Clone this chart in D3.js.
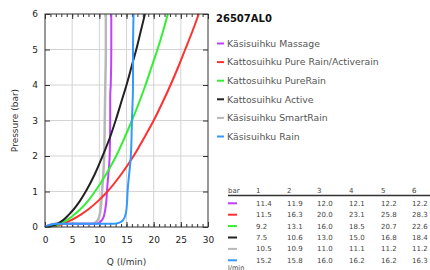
<!DOCTYPE html>
<html>
<head>
<meta charset="utf-8">
<script src="https://cdn.jsdelivr.net/npm/d3@7"></script>
<style>
  body { margin: 0; background: #fff; }
  svg { font-family: "DejaVu Sans", sans-serif; }
</style>
</head>
<body>
<div id="chart"></div>
<script>
// values
var title = "26507AL0";
var seriesNames = ["Käsisuihku Massage", "Kattosuihku Pure Rain/Activerain", "Kattosuihku PureRain",
                   "Kattosuihku Active", "Käsisuihku SmartRain", "Käsisuihku Rain"];
var seriesColors = ["#c040ff", "#ff3030", "#33ee33", "#222222", "#b8b8b8", "#3399ff"];

// pressure (bar) / flow (l/min) points per series
var pMassage = [0, 0.09, 0.095, 0.15, 0.25, 0.5, 0.75, 1, 2, 3, 3.7, 4, 5, 6];
var qMassage = [0, 2.1, 9.6, 10.2, 10.7, 11.1, 11.3, 11.4, 11.9, 12.0, 12.0, 12.1, 12.2, 12.2];
var pPureActive = [0, 0.05, 0.1, 0.2, 0.35, 0.5, 0.75, 1, 1.5, 2, 2.5, 3, 3.5, 4, 4.5, 5, 5.5, 6];
var qPureActive = [0, 2.4, 3.4, 4.9, 6.6, 8.0, 9.9, 11.5, 14.1, 16.3, 18.2, 20.0, 21.6, 23.1, 24.5, 25.8, 27.1, 28.3];
var pPureRain = [0, 0.05, 0.1, 0.2, 0.35, 0.5, 0.75, 1, 1.5, 2, 2.5, 3, 3.5, 4, 4.5, 5, 5.5, 6];
var qPureRain = [0, 2.1, 2.9, 4.1, 5.4, 6.5, 8.0, 9.2, 11.3, 13.1, 14.6, 16.0, 17.3, 18.5, 19.6, 20.7, 21.7, 22.6];
var pActive = [0, 0.05, 0.1, 0.2, 0.35, 0.5, 0.75, 1, 1.5, 2, 2.5, 3, 3.5, 4, 4.5, 5, 5.5, 6];
var qActive = [0, 1.7, 2.4, 3.4, 4.4, 5.3, 6.5, 7.5, 9.2, 10.6, 11.9, 13.0, 14.0, 15.0, 15.9, 16.8, 17.6, 18.4];
var pSmartRain = [0, 0.09, 0.095, 0.15, 0.3, 0.6, 1, 2, 3, 4, 5, 6];
var qSmartRain = [0, 2.1, 8.8, 9.5, 10.0, 10.3, 10.5, 10.9, 11.0, 11.1, 11.2, 11.2];
var pRain = [0, 0.09, 0.095, 0.13, 0.2, 0.4, 0.7, 1, 2, 3, 4, 5, 6];
var qRain = [0, 2.1, 12.9, 13.8, 14.4, 14.9, 15.1, 15.2, 15.8, 16.0, 16.2, 16.2, 16.3];

// table under the legend
var tableBars = ["1", "2", "3", "4", "5", "6"];
var tableRows = [
  ["11.4", "11.9", "12.0", "12.1", "12.2", "12.2"],
  ["11.5", "16.3", "20.0", "23.1", "25.8", "28.3"],
  ["9.2", "13.1", "16.0", "18.5", "20.7", "22.6"],
  ["7.5", "10.6", "13.0", "15.0", "16.8", "18.4"],
  ["10.5", "10.9", "11.0", "11.1", "11.2", "11.2"],
  ["15.2", "15.8", "16.0", "16.2", "16.2", "16.3"]
];

var xTicks = [0, 5, 10, 15, 20, 25, 30];
var yTicks = [0, 1, 2, 3, 4, 5, 6];

var width = 430, height = 270;
var plot = { left: 45, right: 208, top: 14, bottom: 227 };

var svg = d3.select("#chart").append("svg")
  .attr("width", width)
  .attr("height", height);

var x = d3.scaleLinear().domain([0, 30]).range([plot.left, plot.right]);
var y = d3.scaleLinear().domain([0, 6]).range([plot.bottom, plot.top]);

// grid
var grid = svg.append("g").attr("class", "grid");
grid.selectAll("line.gx").data(xTicks.slice(1, -1)).enter().append("line")
  .attr("x1", function(d) { return x(d); }).attr("x2", function(d) { return x(d); })
  .attr("y1", plot.top).attr("y2", plot.bottom)
  .attr("stroke", "#d4d4d4").attr("stroke-width", 1);
grid.selectAll("line.gy").data(yTicks.slice(1, -1)).enter().append("line")
  .attr("y1", function(d) { return y(d); }).attr("y2", function(d) { return y(d); })
  .attr("x1", plot.left).attr("x2", plot.right)
  .attr("stroke", "#d4d4d4").attr("stroke-width", 1);

// axes, ticks pointing inward
function styleAxis(g) {
  g.select(".domain").remove();
  g.selectAll("line").attr("stroke", "#333");
  g.selectAll("text").attr("fill", "#222").style("font-size", "9px").style("font-family", "DejaVu Sans");
}

svg.append("g").attr("transform", "translate(0," + plot.bottom + ")")
  .call(d3.axisBottom(x).tickValues(d3.range(0, 31)).tickSize(-3).tickFormat(""))
  .call(styleAxis);
svg.append("g").attr("transform", "translate(0," + plot.bottom + ")")
  .call(d3.axisBottom(x).tickValues(xTicks).tickSize(-5).tickPadding(10).tickFormat(d3.format("d")))
  .call(styleAxis);
svg.append("g").attr("transform", "translate(0," + plot.top + ")")
  .call(d3.axisTop(x).tickValues(d3.range(0, 31)).tickSize(-3).tickFormat(""))
  .call(styleAxis);
svg.append("g").attr("transform", "translate(0," + plot.top + ")")
  .call(d3.axisTop(x).tickValues(xTicks).tickSize(-5).tickFormat(""))
  .call(styleAxis);
svg.append("g").attr("transform", "translate(" + plot.left + ",0)")
  .call(d3.axisLeft(y).tickValues(yTicks).tickSize(-5).tickPadding(7).tickFormat(d3.format("d")))
  .call(styleAxis);
svg.append("g").attr("transform", "translate(" + plot.right + ",0)")
  .call(d3.axisRight(y).tickValues(yTicks).tickSize(-5).tickFormat(""))
  .call(styleAxis);

// series
var seriesData = [
  d3.zip(pMassage, qMassage),
  d3.zip(pPureActive, qPureActive),
  d3.zip(pPureRain, qPureRain),
  d3.zip(pActive, qActive),
  d3.zip(pSmartRain, qSmartRain),
  d3.zip(pRain, qRain)
];
var drawOrder = [4, 0, 1, 2, 3, 5];

var line = d3.line()
  .x(function(d) { return x(d[1]); })
  .y(function(d) { return y(d[0]); })
  .curve(d3.curveMonotoneY);

var lines = svg.append("g").attr("class", "lines");
drawOrder.forEach(function(i) {
  lines.append("path")
    .datum(seriesData[i])
    .attr("d", line)
    .attr("fill", "none")
    .attr("stroke", seriesColors[i])
    .attr("stroke-width", i === 4 ? 2.5 : 2)
    .attr("stroke-linejoin", "round");
});

// frame
svg.append("rect")
  .attr("x", plot.left).attr("y", plot.top)
  .attr("width", plot.right - plot.left).attr("height", plot.bottom - plot.top)
  .attr("fill", "none").attr("stroke", "#333").attr("stroke-width", 1);

// axis titles
svg.append("text")
  .attr("x", (plot.left + plot.right) / 2).attr("y", 265)
  .attr("text-anchor", "middle")
  .style("font-size", "9px").attr("fill", "#333")
  .text("Q (l/min)");
svg.append("text")
  .attr("transform", "translate(18," + ((plot.top + plot.bottom) / 2) + ") rotate(-90)")
  .attr("text-anchor", "middle")
  .style("font-size", "9px").attr("fill", "#333")
  .text("Pressure (bar)");

// legend
svg.append("text")
  .attr("x", 216).attr("y", 22)
  .style("font-size", "10px").style("font-weight", "bold").attr("fill", "#111")
  .text(title);

var legend = svg.append("g").attr("class", "legend");
seriesNames.forEach(function(name, i) {
  var ly = 43.5 + i * 18.6;
  legend.append("line")
    .attr("x1", 217).attr("x2", 224).attr("y1", ly).attr("y2", ly)
    .attr("stroke", seriesColors[i]).attr("stroke-width", 2);
  legend.append("text")
    .attr("x", 227).attr("y", ly + 3.3)
    .style("font-size", "9.3px").attr("fill", "#555")
    .text(name);
});

// table
var table = svg.append("g").attr("class", "table").style("font-size", "7px").attr("fill", "#444");
var colX = [256, 287, 317, 349, 381, 412];
table.append("text").attr("x", 228).attr("y", 192.5).text("bar");
tableBars.forEach(function(b, j) {
  table.append("text").attr("x", colX[j]).attr("y", 192.5).text(b);
});
table.append("line")
  .attr("x1", 228).attr("x2", 430).attr("y1", 195.5).attr("y2", 195.5)
  .attr("stroke", "#333").attr("stroke-width", 1.5);
tableRows.forEach(function(row, i) {
  var ry = 203.3 + i * 11.4;
  table.append("line")
    .attr("x1", 228).attr("x2", 237).attr("y1", ry).attr("y2", ry)
    .attr("stroke", seriesColors[i]).attr("stroke-width", 2);
  row.forEach(function(v, j) {
    table.append("text").attr("x", colX[j]).attr("y", ry + 2.5).text(v);
  });
});
table.append("text").attr("x", 228).attr("y", 269.5).style("font-size", "6.5px").text("l/min");
</script>
</body>
</html>
